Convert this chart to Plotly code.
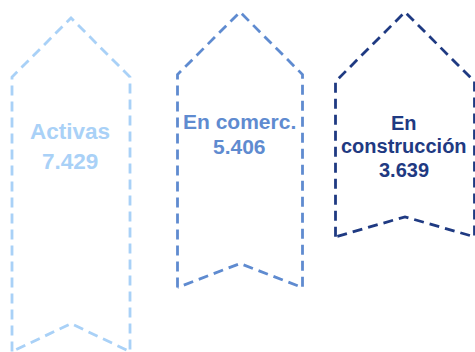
import plotly.graph_objects as go

# ---- data ----
categories = ["Activas", "En comerc.", "En construcción"]
label_lines = [["Activas"], ["En comerc."], ["En", "construcción"]]
values = [7429, 5406, 3639]

# ---- style / layout constants ----
colors = ["#A9D1F7", "#5F8BD0", "#1F3A82"]
centers = [71, 240, 405]
half_widths = [59, 62.5, 69.5]
tops = [18, 12, 12]
notch_depths = [28, 24, 20]
font_sizes = [22.5, 21, 20]
first_line_y = [131, 121, 122.5]
line_pitch = [30, 25, 23.5]
BASE_LEN = 120.4          # length of a shape for a zero value (px)
LEN_PER_UNIT = 0.0287     # extra length per unit of value (px)

W, H = 475, 352


def fmt(v):
    return f"{v:,}".replace(",", ".")


fig = go.Figure()
for i, cat in enumerate(categories):
    cx, hw, top, c = centers[i], half_widths[i], tops[i], colors[i]
    bottom = top + BASE_LEN + LEN_PER_UNIT * values[i]
    shoulder = top + hw
    xs = [cx - hw, cx - hw, cx, cx + hw, cx + hw, cx, cx - hw]
    ys = [bottom, shoulder, top, shoulder, bottom, bottom - notch_depths[i], bottom]
    fig.add_trace(go.Scatter(
        x=xs, y=ys, mode="lines", name=cat,
        line=dict(color=c, width=2.8, dash="10px,6px"),
        hoverinfo="skip", showlegend=False,
    ))
    lines = label_lines[i] + [fmt(values[i])]
    for j, txt in enumerate(lines):
        fig.add_annotation(
            x=cx - 1, y=first_line_y[i] + j * line_pitch[i],
            xref="x", yref="y", text=txt, showarrow=False,
            xanchor="center", yanchor="middle",
            font=dict(family="Liberation Sans, Arial, sans-serif",
                      size=font_sizes[i], color=c, weight="bold"),
        )

fig.update_layout(
    width=W, height=H,
    margin=dict(l=0, r=0, t=0, b=0),
    paper_bgcolor="white", plot_bgcolor="white",
    xaxis=dict(range=[0, W], visible=False, fixedrange=True),
    yaxis=dict(range=[H, 0], visible=False, fixedrange=True),
    showlegend=False,
)

fig.write_html("out.html")
